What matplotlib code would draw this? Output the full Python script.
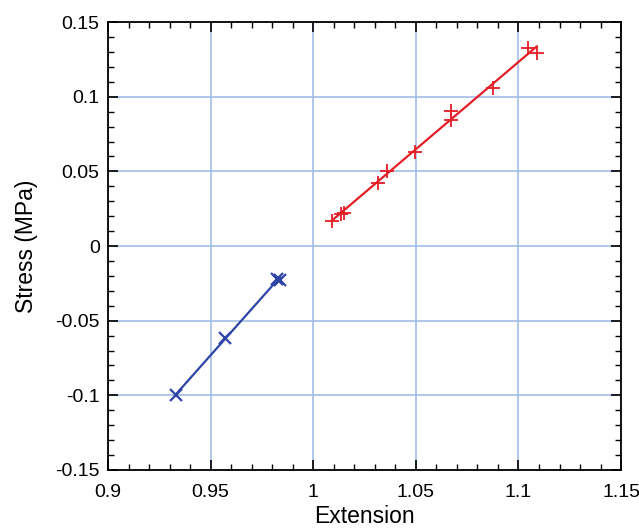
import numpy as np
import matplotlib
matplotlib.use("Agg")
import matplotlib.pyplot as plt
from matplotlib.ticker import MultipleLocator, FuncFormatter

plt.rcParams['font.family'] = ['Liberation Sans', 'DejaVu Sans']

# Tension data (red +)
ext_tension = [1.009, 1.0134, 1.015, 1.0314, 1.0358, 1.0496, 1.067, 1.067, 1.0875, 1.1045, 1.1089]
stress_tension = [0.0169, 0.0218, 0.0224, 0.0424, 0.0502, 0.0631, 0.0847, 0.0902, 0.1058, 0.1325, 0.1295]

# Compression data (blue x)
ext_comp = [0.9331, 0.957, 0.9822, 0.9838]
stress_comp = [-0.0998, -0.0615, -0.022, -0.0225]

red = '#e41e26'
blue = '#2e44a6'

fig = plt.figure(figsize=(6.39, 5.28), dpi=100)
ax = fig.add_axes([0.169, 0.110, 0.803, 0.848])

ax.grid(True, which='major', color='#a3bde6', linewidth=1.2)
ax.set_axisbelow(True)

# fitted lines
for xs, ys, c in [(ext_tension, stress_tension, red), (ext_comp, stress_comp, blue)]:
    p = np.polyfit(xs, ys, 1)
    xl = np.array([min(xs), max(xs)])
    ax.plot(xl, np.polyval(p, xl), color=c, linewidth=1.6)

ax.plot(ext_tension, stress_tension, linestyle='none', marker='+', color=red,
        markersize=10, markeredgewidth=1.3)
ax.plot(ext_comp, stress_comp, linestyle='none', marker='x', color=blue,
        markersize=9, markeredgewidth=1.6)

ax.set_xlim(0.9, 1.15)
ax.set_ylim(-0.15, 0.15)
ax.xaxis.set_major_locator(MultipleLocator(0.05))
ax.xaxis.set_minor_locator(MultipleLocator(0.01))
ax.yaxis.set_major_locator(MultipleLocator(0.05))
ax.yaxis.set_minor_locator(MultipleLocator(0.01))
fmt = FuncFormatter(lambda v, pos: '%g' % round(v, 4))
ax.xaxis.set_major_formatter(fmt)
ax.yaxis.set_major_formatter(fmt)

ax.tick_params(which='both', direction='in', top=True, right=True, labelsize=14)
ax.tick_params(which='major', length=7, width=1.2)
ax.tick_params(which='minor', length=4, width=1.0)
ax.tick_params(axis='x', which='major', pad=10)
ax.tick_params(axis='y', which='major', pad=6)
for s in ax.spines.values():
    s.set_linewidth(1.3)

ax.set_xlabel('Extension', fontsize=16.5, labelpad=3)
ax.set_ylabel('Stress (MPa)', fontsize=16.5, labelpad=12)

fig.savefig('out.png', dpi=100)
